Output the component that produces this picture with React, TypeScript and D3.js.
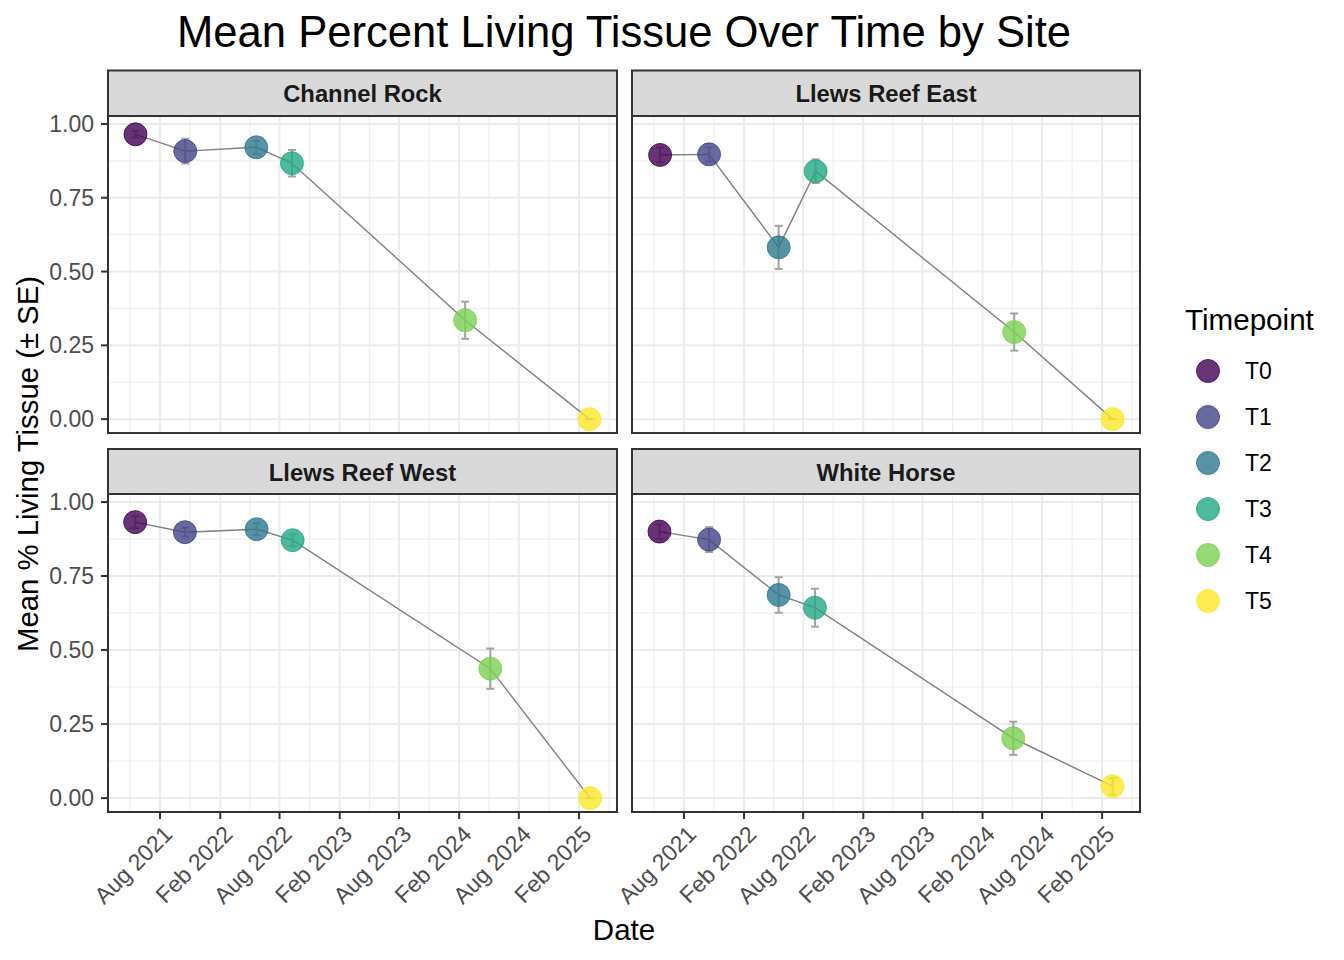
import { useEffect, useRef } from 'react';
import * as d3 from 'd3';

// ---- data ----
const sites = ['Channel Rock', 'Llews Reef East', 'Llews Reef West', 'White Horse'];
const timepoints = ['T0', 'T1', 'T2', 'T3', 'T4', 'T5'];
const tpColors = ['#440154', '#414487', '#2A788E', '#22A884', '#7AD151', '#FDE725'];

const channelRockDates = ['2021-05-18', '2021-10-17', '2022-05-22', '2022-09-08', '2024-02-19', '2025-03-05'];
const channelRockMean = [0.965, 0.908, 0.921, 0.867, 0.335, 0];
const channelRockSE = [0.011, 0.042, 0.022, 0.045, 0.063, 0];

const llewsEastDates = ['2021-05-20', '2021-10-17', '2022-05-18', '2022-09-08', '2024-05-08', '2025-03-05'];
const llewsEastMean = [0.895, 0.897, 0.582, 0.84, 0.295, 0];
const llewsEastSE = [0.025, 0.024, 0.073, 0.04, 0.063, 0];

const llewsWestDates = ['2021-05-17', '2021-10-16', '2022-05-23', '2022-09-10', '2024-05-06', '2025-03-07'];
const llewsWestMean = [0.932, 0.898, 0.908, 0.871, 0.437, 0];
const llewsWestSE = [0.02, 0.015, 0.02, 0.02, 0.068, 0];

const whiteHorseDates = ['2021-05-18', '2021-10-17', '2022-05-18', '2022-09-06', '2024-05-05', '2025-03-05'];
const whiteHorseMean = [0.9, 0.873, 0.686, 0.643, 0.202, 0.04];
const whiteHorseSE = [0.024, 0.042, 0.06, 0.064, 0.056, 0.028];

const xBreaks = ['2021-08-01', '2022-02-01', '2022-08-01', '2023-02-01', '2023-08-01', '2024-02-01', '2024-08-01', '2025-02-01'];
const yBreaks = [0, 0.25, 0.5, 0.75, 1];

interface Row { tp: string; date: Date; mean: number; se: number; }

const parse = d3.timeParse('%Y-%m-%d');
const build = (dates: string[], mean: number[], se: number[]): Row[] =>
  timepoints.map((tp, i) => ({ tp, date: parse(dates[i]) as Date, mean: mean[i], se: se[i] }));

const siteData: Row[][] = [
  build(channelRockDates, channelRockMean, channelRockSE),
  build(llewsEastDates, llewsEastMean, llewsEastSE),
  build(llewsWestDates, llewsWestMean, llewsWestSE),
  build(whiteHorseDates, whiteHorseMean, whiteHorseSE),
];

const FONT = '"Liberation Sans", Arial, sans-serif';

const App = () => {
  const svgRef = useRef<SVGSVGElement | null>(null);

  useEffect(() => {
    const width = 1344;
    const height = 960;
    const svg = d3.select(svgRef.current);
    svg.selectAll('*').remove();
    svg.attr('width', width).attr('height', height).style('font-family', FONT);

    svg.append('rect').attr('width', width).attr('height', height).attr('fill', 'white');

    const cols = [[108, 617], [632, 1140]];
    const rows = [{ strip: 70.5, top: 116, bottom: 433 }, { strip: 449, top: 494, bottom: 812 }];

    const color = d3.scaleOrdinal<string, string>().domain(timepoints).range(tpColors);

    const majors = xBreaks.map(d => parse(d) as Date);
    const step = (majors[1].getTime() - majors[0].getTime()) / 2;
    const minors = [new Date(majors[0].getTime() - step)];
    majors.forEach((d, i) => {
      if (i < majors.length - 1) minors.push(new Date((d.getTime() + majors[i + 1].getTime()) / 2));
    });
    minors.push(new Date(majors[majors.length - 1].getTime() + step));
    const yMinors = [0.125, 0.375, 0.625, 0.875];

    const fmt = d3.timeFormat('%b %Y');

    sites.forEach((site, si) => {
      const [x0, x1] = cols[si % 2];
      const r = rows[Math.floor(si / 2)];
      const data = siteData[si];

      const x = d3.scaleTime()
        .domain([parse('2021-02-23') as Date, parse('2025-05-28') as Date])
        .range([x0, x1]);
      const y = d3.scaleLinear().domain([-0.047, 1.027]).range([r.bottom, r.top]);

      const g = svg.append('g');

      // grid
      g.selectAll('line.ymin').data(yMinors).enter().append('line')
        .attr('x1', x0).attr('x2', x1).attr('y1', d => y(d)).attr('y2', d => y(d))
        .attr('stroke', '#EBEBEB').attr('stroke-width', 1);
      g.selectAll('line.xmin').data(minors.filter(d => x(d) > x0 && x(d) < x1)).enter().append('line')
        .attr('x1', d => x(d)).attr('x2', d => x(d)).attr('y1', r.top).attr('y2', r.bottom)
        .attr('stroke', '#EBEBEB').attr('stroke-width', 1);
      g.selectAll('line.ymaj').data(yBreaks).enter().append('line')
        .attr('x1', x0).attr('x2', x1).attr('y1', d => y(d)).attr('y2', d => y(d))
        .attr('stroke', '#EBEBEB').attr('stroke-width', 2);
      g.selectAll('line.xmaj').data(majors).enter().append('line')
        .attr('x1', d => x(d)).attr('x2', d => x(d)).attr('y1', r.top).attr('y2', r.bottom)
        .attr('stroke', '#EBEBEB').attr('stroke-width', 2);

      // connecting line
      const line = d3.line<Row>().x(d => x(d.date)).y(d => y(d.mean));
      g.append('path').datum(data).attr('d', line).attr('fill', 'none')
        .attr('stroke', '#7F7F7F').attr('stroke-width', 1.4);

      // error bars
      const capHalf = 4;
      const eb = g.selectAll('g.eb').data(data).enter().append('g')
        .attr('stroke', '#A3A3A3').attr('stroke-width', 2).attr('fill', 'none');
      eb.append('line').attr('x1', d => x(d.date)).attr('x2', d => x(d.date))
        .attr('y1', d => y(d.mean - d.se)).attr('y2', d => y(d.mean + d.se));
      eb.append('line').attr('x1', d => x(d.date) - capHalf).attr('x2', d => x(d.date) + capHalf)
        .attr('y1', d => y(d.mean - d.se)).attr('y2', d => y(d.mean - d.se));
      eb.append('line').attr('x1', d => x(d.date) - capHalf).attr('x2', d => x(d.date) + capHalf)
        .attr('y1', d => y(d.mean + d.se)).attr('y2', d => y(d.mean + d.se));

      // points
      g.selectAll('circle').data(data).enter().append('circle')
        .attr('cx', d => x(d.date)).attr('cy', d => y(d.mean)).attr('r', 11.5)
        .attr('fill', d => color(d.tp)).attr('fill-opacity', 0.8)
        .attr('stroke', d => color(d.tp)).attr('stroke-opacity', 0.8).attr('stroke-width', 1);

      // panel border
      g.append('rect').attr('x', x0).attr('y', r.top).attr('width', x1 - x0).attr('height', r.bottom - r.top)
        .attr('fill', 'none').attr('stroke', '#333333').attr('stroke-width', 2);

      // strip
      g.append('rect').attr('x', x0).attr('y', r.strip).attr('width', x1 - x0).attr('height', r.top - r.strip)
        .attr('fill', '#D9D9D9').attr('stroke', '#333333').attr('stroke-width', 2);
      g.append('text').attr('x', (x0 + x1) / 2).attr('y', (r.strip + r.top) / 2 + 9)
        .attr('text-anchor', 'middle').attr('fill', '#1A1A1A').style('font-size', '23.8px')
        .style('font-weight', 'bold').text(site);

      // y axis on left column
      if (si % 2 === 0) {
        const ya = g.append('g');
        yBreaks.forEach(v => {
          ya.append('line').attr('x1', x0 - 7).attr('x2', x0).attr('y1', y(v)).attr('y2', y(v))
            .attr('stroke', '#333333').attr('stroke-width', 2);
          ya.append('text').attr('x', x0 - 14).attr('y', y(v) + 8).attr('text-anchor', 'end')
            .attr('fill', '#4D4D4D').style('font-size', '23px').text(d3.format('.2f')(v));
        });
      }

      // x axis on bottom row
      if (si >= 2) {
        const xa = g.append('g');
        majors.forEach(d => {
          xa.append('line').attr('x1', x(d)).attr('x2', x(d)).attr('y1', r.bottom).attr('y2', r.bottom + 7)
            .attr('stroke', '#333333').attr('stroke-width', 2);
          xa.append('text')
            .attr('transform', `translate(${x(d) + 2},${r.bottom + 12}) rotate(-45)`)
            .attr('text-anchor', 'end').attr('dy', '0.72em')
            .attr('fill', '#4D4D4D').style('font-size', '23px').text(fmt(d));
        });
      }
    });

    // titles
    svg.append('text').attr('x', 624).attr('y', 47).attr('text-anchor', 'middle')
      .attr('fill', 'black').style('font-size', '43.6px').text('Mean Percent Living Tissue Over Time by Site');
    svg.append('text').attr('x', 624).attr('y', 940).attr('text-anchor', 'middle')
      .attr('fill', 'black').style('font-size', '29.5px').text('Date');
    svg.append('text').attr('transform', 'translate(38,464) rotate(-90)').attr('text-anchor', 'middle')
      .attr('fill', 'black').style('font-size', '29.3px').text('Mean % Living Tissue (± SE)');

    // legend
    const legend = svg.append('g').attr('transform', 'translate(1185,0)');
    legend.append('text').attr('x', 0).attr('y', 330).style('font-size', '29.6px').attr('fill', 'black')
      .text('Timepoint');
    timepoints.forEach((tp, i) => {
      const cy = 371 + i * 46;
      legend.append('circle').attr('cx', 23).attr('cy', cy).attr('r', 11.5)
        .attr('fill', color(tp)).attr('fill-opacity', 0.8)
        .attr('stroke', color(tp)).attr('stroke-opacity', 0.8).attr('stroke-width', 1);
      legend.append('text').attr('x', 60).attr('y', cy + 8).style('font-size', '23px')
        .attr('fill', 'black').text(tp);
    });
  }, []);

  return <svg ref={svgRef} style={{ position: 'absolute', left: 0, top: 0 }}></svg>;
};

export default App;
